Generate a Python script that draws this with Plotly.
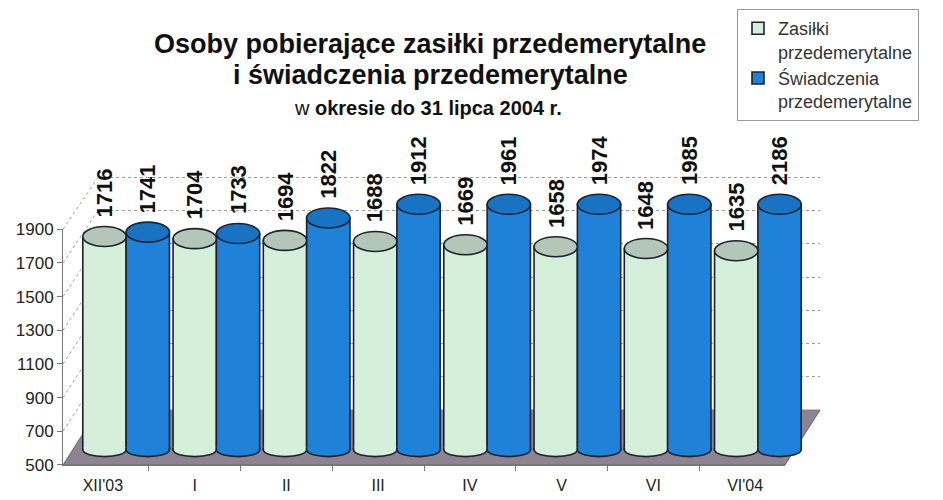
import plotly.graph_objects as go

# ---------------- data ----------------
categories = ["XII'03", "I", "II", "III", "IV", "V", "VI", "VI'04"]
zasilki = [1716, 1704, 1694, 1688, 1669, 1658, 1648, 1635]
swiadczenia = [1741, 1733, 1822, 1912, 1961, 1974, 1985, 2186]
series_names = ["Zasiłki<br>przedemerytalne", "Świadczenia<br>przedemerytalne"]
y_ticks = [500, 700, 900, 1100, 1300, 1500, 1700, 1900]
AXIS_MIN, AXIS_MAX = 500, 1900   # value axis of the original chart (bars above are cut)

# ---------------- geometry helpers (layout only) ----------------
W, H = 943, 500
def fx(p):
    return p / W
def fy(p):
    return 1 - p / H

# front frame (tick labels), back wall (gridlines), bars (middle depth)
FRONT_X = (63, 785); FRONT_Y = (474, 229)
BACK_X = (98, 820);  BACK_Y = (417, 175)
BAR_X = (81, 803);   BAR_Y = (458, 203)
PAD_PX = 12
scale = (BAR_Y[0] - BAR_Y[1]) / (AXIS_MAX - AXIS_MIN)
pad_units = PAD_PX / scale
back_scale = (BACK_Y[0] - BACK_Y[1]) / (AXIS_MAX - AXIS_MIN)
back_pad = 3 / back_scale

def frame_y(frame, t):
    lo, hi = frame
    return lo + (hi - lo) * (t - AXIS_MIN) / (AXIS_MAX - AXIS_MIN)

BARGAP = 0.04
cat_px = (BAR_X[1] - BAR_X[0]) / len(categories)
bar_px = cat_px * (1 - BARGAP) / 2

PALE = "#d5efdb"
PALE_TOP = "#b4c6b7"
BLUE = "#1f82d8"
BLUE_TOP = "#1a73c2"
EDGE = "#1b2230"
FONT = "Liberation Sans, Arial, sans-serif"

fig = go.Figure()

# invisible traces to establish front and back frames
fig.add_trace(go.Scatter(x=categories, y=[None] * len(categories), mode="markers",
                         xaxis="x", yaxis="y", showlegend=False, hoverinfo="skip"))
fig.add_trace(go.Scatter(x=categories, y=[None] * len(categories), mode="markers",
                         xaxis="x2", yaxis="y2", showlegend=False, hoverinfo="skip"))

series = [(zasilki, PALE, PALE_TOP, series_names[0], -1),
          (swiadczenia, BLUE, BLUE_TOP, series_names[1], 1)]

for vals, col, topcol, name, side in series:
    shown = [min(v, AXIS_MAX) for v in vals]
    fig.add_trace(go.Bar(
        x=categories, y=[s - AXIS_MIN for s in shown], base=AXIS_MIN,
        name=name, xaxis="x3", yaxis="y3",
        marker=dict(color=col, line=dict(color=EDGE, width=1.6)),
        hoverinfo="skip",
    ))

shapes = []
annotations = []

# floor of the 3D chart
floor_path = (f"M {fx(FRONT_X[0])},{fy(FRONT_Y[0])} L {fx(FRONT_X[1])},{fy(FRONT_Y[0])} "
              f"L {fx(BACK_X[1])},{fy(BACK_Y[0])} L {fx(BACK_X[0])},{fy(BACK_Y[0])} Z")
shapes.append(dict(type="path", xref="paper", yref="paper", path=floor_path,
                   fillcolor="#8e8391", line=dict(color="#6e6470", width=1), layer="below"))

# side-wall gridlines joining the front axis ticks to the back wall gridlines
for t in y_ticks[1:]:
    shapes.append(dict(type="line", xref="paper", yref="paper",
                       x0=fx(FRONT_X[0]), y0=fy(frame_y(FRONT_Y, t)),
                       x1=fx(BACK_X[0]), y1=fy(frame_y(BACK_Y, t)),
                       line=dict(color="#a0a0a0", width=1, dash="dot"), layer="below"))

# cylinder caps and bottoms, anchored at the data values
for vals, col, topcol, name, side in series:
    for i, v in enumerate(vals):
        shown = min(v, AXIS_MAX)
        x0 = 0 if side > 0 else -bar_px
        x1 = bar_px if side > 0 else 0
        w = bar_px / 2
        c = x0 + w
        ry = 7
        k = ry * 4 / 3
        path = (f"M {c - w},2 L {c - w},0 C {c - w},{-k} {c + w},{-k} {c + w},0 L {c + w},2")
        shapes.append(dict(type="path", xref="x3", yref="y3", xsizemode="pixel", ysizemode="pixel",
                           xanchor=i, yanchor=AXIS_MIN, path=path, fillcolor=col,
                           line=dict(color=EDGE, width=1.6), layer="above"))
        shapes.append(dict(type="circle", xref="x3", yref="y3", xsizemode="pixel", ysizemode="pixel",
                           xanchor=i, yanchor=shown, x0=x0, x1=x1, y0=-10, y1=10,
                           fillcolor=topcol, line=dict(color=EDGE, width=1.6), layer="above"))
        annotations.append(dict(x=i, y=shown, xref="x3", yref="y3", text=f"<b>{v}</b>",
                                textangle=-90, showarrow=False, xanchor="center", yanchor="bottom",
                                xshift=side * bar_px / 2, yshift=17,
                                font=dict(family=FONT, size=22, color="#111111")))

# titles
annotations += [
    dict(x=fx(430), y=fy(36), xref="paper", yref="paper", showarrow=False,
         text="<b>Osoby pobierające zasiłki przedemerytalne</b>",
         font=dict(family=FONT, size=27, color="#111111"), xanchor="center", yanchor="middle"),
    dict(x=fx(430), y=fy(69), xref="paper", yref="paper", showarrow=False,
         text="<b>i świadczenia przedemerytalne</b>",
         font=dict(family=FONT, size=27, color="#111111"), xanchor="center", yanchor="middle"),
    dict(x=fx(428), y=fy(103), xref="paper", yref="paper", showarrow=False,
         text="w <b>okresie do 31 lipca 2004 r.</b>",
         font=dict(family=FONT, size=20, color="#111111"), xanchor="center", yanchor="middle"),
]

fig.update_layout(
    width=W, height=H,
    margin=dict(l=0, r=0, t=0, b=0),
    paper_bgcolor="white", plot_bgcolor="rgba(0,0,0,0)",
    barmode="group", bargap=BARGAP, bargroupgap=0,
    font=dict(family=FONT, color="#333333"),
    showlegend=True,
    legend=dict(x=fx(737), y=1.0, xanchor="left", yanchor="top",
                bgcolor="white", bordercolor="#9a9a9a", borderwidth=1,
                font=dict(family=FONT, size=18, color="#333333"), valign="top",
                tracegroupgap=0),
    xaxis=dict(domain=[fx(FRONT_X[0]), fx(FRONT_X[1])], anchor="y", type="category",
               categoryorder="array", categoryarray=categories,
               showline=True, linecolor="#777777", ticks="outside", tickson="boundaries",
               ticklen=5, tickcolor="#777777", showgrid=False, zeroline=False,
               ticklabelstandoff=6,
               tickfont=dict(family=FONT, size=16, color="#222222")),
    yaxis=dict(domain=[fy(FRONT_Y[0]), fy(FRONT_Y[1])], anchor="x", range=[AXIS_MIN, AXIS_MAX],
               tickvals=y_ticks, showline=True, linecolor="#777777", ticks="outside",
               ticklen=5, tickcolor="#777777", showgrid=False, zeroline=False,
               tickfont=dict(family=FONT, size=17, color="#222222")),
    xaxis2=dict(domain=[fx(BACK_X[0]), fx(BACK_X[1])], anchor="y2", type="category",
                categoryarray=categories, categoryorder="array",
                showticklabels=False, showgrid=False, zeroline=False, showline=False),
    yaxis2=dict(domain=[fy(BACK_Y[0]), fy(BACK_Y[1] - 3)], anchor="x2",
                range=[AXIS_MIN, AXIS_MAX + back_pad],
                tickvals=y_ticks, showticklabels=False, showgrid=True, gridcolor="#9a9a9a",
                griddash="dot", gridwidth=1, zeroline=False, showline=False),
    xaxis3=dict(domain=[fx(BAR_X[0]), fx(BAR_X[1])], anchor="y3", type="category",
                categoryarray=categories, categoryorder="array",
                showticklabels=False, showgrid=False, zeroline=False, showline=False),
    yaxis3=dict(domain=[fy(BAR_Y[0] + PAD_PX), fy(BAR_Y[1] - PAD_PX)], anchor="x3",
                range=[AXIS_MIN - pad_units, AXIS_MAX + pad_units],
                showticklabels=False, showgrid=False, zeroline=False, showline=False),
    shapes=shapes,
    annotations=annotations,
)

fig.write_html("out.html", config={"displayModeBar": False},
               post_script="document.body.style.margin='0';")
